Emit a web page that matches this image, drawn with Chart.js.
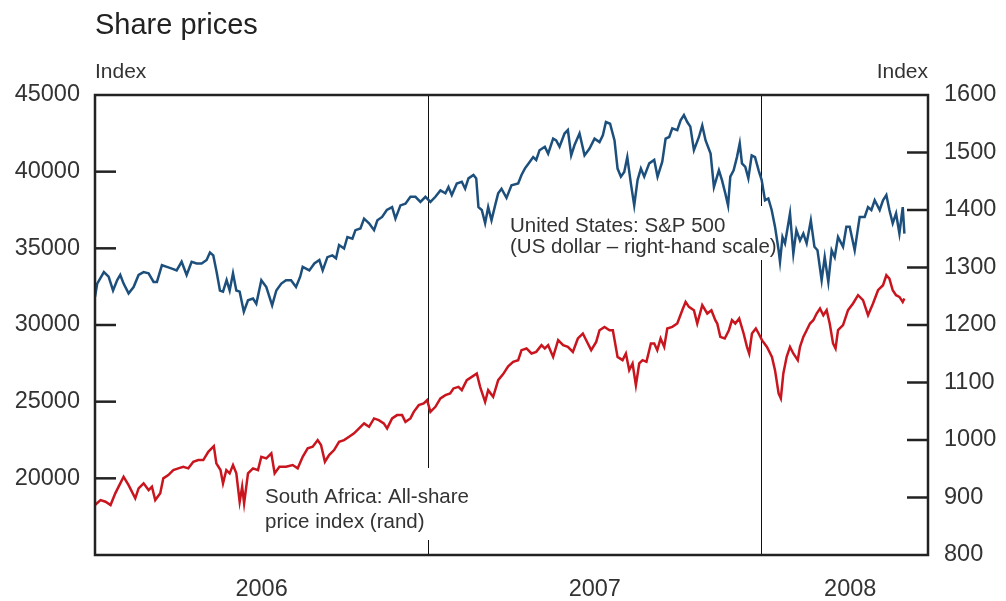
<!DOCTYPE html>
<html>
<head>
<meta charset="utf-8">
<title>Share prices</title>
<script src="https://cdn.jsdelivr.net/npm/chart.js@4.4.1/dist/chart.umd.min.js"></script>
<style>
    html, body { margin: 0; padding: 0; background: #fff; }
</style>
</head>
<body>
<canvas id="chart" width="1006" height="601"></canvas>
<script>
// months since 1 Jan 2006
var usMonths = [0.00,0.08,0.32,0.49,0.65,0.80,0.91,1.03,1.21,1.39,1.57,1.75,1.93,2.11,2.23,2.41,2.59,2.77,2.94,3.12,3.30,3.48,3.66,3.84,4.02,4.14,4.26,4.38,4.50,4.61,4.74,4.85,4.97,5.09,5.21,5.36,5.51,5.69,5.81,5.99,6.17,6.38,6.53,6.71,6.88,7.06,7.24,7.39,7.48,7.72,7.90,8.08,8.20,8.37,8.55,8.68,8.79,8.97,9.09,9.27,9.38,9.56,9.69,9.87,10.05,10.17,10.34,10.51,10.70,10.82,11.00,11.18,11.36,11.54,11.72,11.90,12.08,12.26,12.44,12.62,12.73,12.85,13.03,13.21,13.33,13.45,13.63,13.73,13.81,13.93,14.05,14.16,14.28,14.41,14.52,14.64,14.82,15.00,15.24,15.36,15.48,15.66,15.78,15.89,16.01,16.20,16.32,16.50,16.61,16.73,16.91,17.03,17.15,17.27,17.45,17.63,17.81,17.99,18.17,18.29,18.40,18.55,18.71,18.82,18.94,19.06,19.17,19.30,19.42,19.54,19.66,19.78,19.96,20.14,20.26,20.43,20.55,20.68,20.79,20.97,21.09,21.21,21.33,21.44,21.57,21.75,21.87,21.99,22.17,22.29,22.47,22.58,22.70,22.80,22.88,23.00,23.12,23.22,23.30,23.42,23.53,23.65,23.77,23.90,24.01,24.13,24.25,24.37,24.49,24.62,24.67,24.76,24.85,25.03,25.15,25.26,25.39,25.51,25.63,25.78,25.91,26.02,26.17,26.28,26.41,26.53,26.64,26.76,26.94,27.06,27.18,27.36,27.54,27.72,27.84,27.96,28.08,28.26,28.38,28.50,28.61,28.73,28.85,28.97,29.09,29.15];
var usValues = [1249,1272,1292,1284,1260,1278,1287,1272,1255,1266,1287,1292,1290,1275,1275,1304,1301,1298,1295,1310,1287,1310,1307,1307,1313,1326,1321,1292,1260,1258,1278,1260,1290,1260,1258,1223,1243,1246,1237,1278,1266,1234,1260,1272,1278,1278,1266,1284,1301,1295,1307,1313,1295,1318,1321,1316,1339,1333,1353,1350,1365,1368,1385,1377,1365,1382,1388,1400,1405,1385,1408,1411,1423,1423,1414,1423,1414,1423,1434,1429,1440,1426,1446,1449,1437,1455,1461,1455,1405,1400,1377,1405,1382,1408,1429,1437,1421,1443,1446,1461,1472,1484,1492,1487,1504,1510,1498,1524,1521,1510,1533,1539,1495,1513,1533,1495,1507,1524,1518,1530,1553,1550,1521,1472,1458,1466,1492,1446,1408,1452,1472,1458,1481,1487,1458,1484,1524,1527,1542,1539,1556,1565,1553,1545,1504,1527,1547,1521,1498,1440,1469,1452,1429,1408,1458,1469,1492,1516,1481,1475,1455,1495,1492,1469,1452,1417,1420,1400,1371,1330,1310,1353,1342,1394,1324,1365,1347,1359,1342,1382,1336,1330,1278,1318,1275,1330,1318,1353,1336,1371,1371,1330,1388,1388,1405,1400,1417,1400,1417,1426,1400,1377,1394,1359,1405,1359];

var saMonths = [0.00,0.20,0.38,0.56,0.73,0.91,1.03,1.21,1.45,1.57,1.75,1.93,2.05,2.17,2.35,2.46,2.64,2.82,3.00,3.18,3.36,3.54,3.72,3.90,4.08,4.28,4.37,4.52,4.61,4.73,4.85,4.97,5.09,5.21,5.30,5.37,5.51,5.69,5.87,5.99,6.17,6.35,6.47,6.64,6.88,7.12,7.30,7.48,7.66,7.84,8.02,8.14,8.28,8.43,8.61,8.79,8.97,9.15,9.33,9.51,9.69,9.87,10.05,10.22,10.40,10.52,10.70,10.88,11.06,11.18,11.36,11.48,11.66,11.84,11.96,12.08,12.26,12.44,12.62,12.79,12.91,13.09,13.21,13.39,13.57,13.75,13.87,14.05,14.16,14.34,14.52,14.70,14.88,15.06,15.24,15.36,15.54,15.72,15.89,16.08,16.20,16.32,16.50,16.68,16.86,17.03,17.21,17.39,17.57,17.75,17.87,18.05,18.17,18.35,18.53,18.65,18.82,19.00,19.12,19.24,19.36,19.48,19.60,19.72,19.86,20.02,20.14,20.25,20.37,20.50,20.61,20.79,20.97,21.15,21.27,21.39,21.57,21.69,21.87,22.05,22.20,22.34,22.41,22.52,22.68,22.83,22.94,23.06,23.20,23.36,23.48,23.56,23.66,23.80,23.90,24.02,24.20,24.38,24.49,24.62,24.70,24.79,24.91,25.03,25.15,25.31,25.39,25.51,25.63,25.75,25.87,25.99,26.11,26.23,26.35,26.46,26.58,26.67,26.76,26.94,27.12,27.30,27.48,27.66,27.84,28.02,28.20,28.38,28.50,28.61,28.73,28.85,28.97,29.09,29.15];
var saValues = [18258,18584,18473,18258,19021,19672,20102,19561,18695,19346,19672,19236,19451,18584,19021,19998,20213,20539,20650,20754,20650,21080,21191,21191,21731,22103,20975,20539,19672,20539,20324,20865,20324,18473,19451,18369,20324,20650,20539,21406,21301,21627,20324,20754,20754,20865,20650,21406,21953,22057,22494,22168,21080,21516,21842,22383,22494,22709,22930,23256,23582,23360,23908,23797,23582,23256,23908,24123,24123,23686,23908,24338,24774,24885,25100,24338,24664,25211,25426,25537,25863,25967,25752,26403,26618,26840,25967,24989,25752,25315,26403,26800,27300,27596,27707,28358,28469,28143,28247,28684,28469,28684,27921,29010,28684,28573,28247,29121,29446,28795,28358,28899,29661,29876,29661,29661,27921,27707,28143,27055,27491,26077,27491,27707,27596,28795,28795,28358,29121,28573,29772,29876,30098,30965,31505,31180,30965,30098,31290,30749,30965,30313,30098,29225,29121,29661,30313,30098,30424,29446,28573,28143,29446,29772,29446,29010,28573,27921,27055,25537,25211,26840,27921,28573,28143,27707,28573,29225,29661,30098,30313,30749,31075,30639,30965,30098,28795,28469,29661,29987,30965,31401,31942,31616,30639,31401,32268,32594,33245,33030,32268,31942,31831,31505,31727];

var yearLabels = ['2006', '2007', '2008'];
var yearLabelAt = [6, 18, 27.2];
var yearBreaks = [12, 24];
var leftTicks = [20000, 25000, 30000, 35000, 40000];
var rightTicks = [900, 1000, 1100, 1200, 1300, 1400, 1500];

var FONT = '"Liberation Sans", Arial, sans-serif';
var TEXT = '#333333';

function toPoints(xs, ys) {
    var pts = [];
    for (var i = 0; i < xs.length; i++) {
        pts.push({ x: xs[i], y: ys[i] });
    }
    return pts;
}

/*
*   frame, year lines, label boxes and the titles
*/
var decor = {
    id: 'decor',
    beforeDatasetsDraw: function(chart) {
        var ctx = chart.ctx;
        var area = chart.chartArea;
        var xs = chart.scales.x;
        ctx.save();
        ctx.strokeStyle = '#111';
        ctx.lineWidth = 1;
        yearBreaks.forEach(function(m) {
            var px = Math.round(xs.getPixelForValue(m)) + 0.5;
            ctx.beginPath();
            ctx.moveTo(px, area.top);
            ctx.lineTo(px, area.bottom);
            ctx.stroke();
        });

        // white boxes behind the two notes
        ctx.fillStyle = '#fff';
        ctx.fillRect(505, 206, 272, 54);
        ctx.fillRect(258, 468, 216, 72);

        ctx.fillStyle = TEXT;
        ctx.font = '20.5px ' + FONT;
        ctx.textAlign = 'left';
        ctx.textBaseline = 'alphabetic';
        ctx.fillText('United States: S&P 500', 510, 232);
        ctx.fillText('(US dollar \u2013 right-hand scale)', 510, 253);
        ctx.fillText('South Africa: All-share', 265, 503);
        ctx.fillText('price index (rand)', 265, 528);
        ctx.restore();
    },
    afterDatasetsDraw: function(chart) {
        var ctx = chart.ctx;
        var area = chart.chartArea;
        var yl = chart.scales.yL;
        var yr = chart.scales.yR;
        ctx.save();
        ctx.strokeStyle = '#222';
        ctx.lineWidth = 2.5;
        leftTicks.forEach(function(v) {
            var py = yl.getPixelForValue(v);
            ctx.beginPath();
            ctx.moveTo(area.left, py);
            ctx.lineTo(area.left + 21, py);
            ctx.stroke();
        });
        rightTicks.forEach(function(v) {
            var py = yr.getPixelForValue(v);
            ctx.beginPath();
            ctx.moveTo(area.right, py);
            ctx.lineTo(area.right - 21, py);
            ctx.stroke();
        });
        ctx.strokeRect(area.left, area.top, area.right - area.left, area.bottom - area.top);
        ctx.restore();
    },
    afterDraw: function(chart) {
        var ctx = chart.ctx;
        var area = chart.chartArea;
        ctx.save();
        ctx.fillStyle = '#222';
        ctx.textBaseline = 'alphabetic';
        ctx.textAlign = 'left';
        ctx.font = '29px ' + FONT;
        ctx.fillText('Share prices', 95, 34);
        ctx.fillStyle = TEXT;
        ctx.font = '21px ' + FONT;
        ctx.fillText('Index', 95, 78);
        ctx.textAlign = 'right';
        ctx.fillText('Index', area.right, 78);
        ctx.restore();
    }
};

var ctx = document.getElementById('chart').getContext('2d');
var chart = new Chart(ctx, {
    type: 'line',
    data: {
        datasets: [{
            label: 'United States: S&P 500',
            data: toPoints(usMonths, usValues),
            yAxisID: 'yR',
            borderColor: '#1d4f7c',
            borderWidth: 2.5,
            pointRadius: 0,
            tension: 0,
            fill: false
        }, {
            label: 'South Africa: All-share price index',
            data: toPoints(saMonths, saValues),
            yAxisID: 'yL',
            borderColor: '#c8151e',
            borderWidth: 2.5,
            pointRadius: 0,
            tension: 0,
            fill: false
        }]
    },
    options: {
        responsive: false,
        animation: false,
        devicePixelRatio: 1,
        layout: { padding: { top: 95, left: 0, right: 0, bottom: 0 } },
        plugins: {
            legend: { display: false },
            tooltip: { enabled: false }
        },
        scales: {
            x: {
                type: 'linear',
                position: 'bottom',
                min: 0,
                max: 30,
                grid: { display: false, drawTicks: false },
                border: { display: false },
                afterBuildTicks: function(scale) {
                    scale.ticks = yearLabelAt.map(function(v) { return { value: v }; });
                },
                afterFit: function(scale) { scale.height = 46; },
                ticks: {
                    autoSkip: false,
                    maxRotation: 0,
                    padding: 20,
                    color: TEXT,
                    font: { family: FONT, size: 23.5 },
                    callback: function(value) {
                        var i = yearLabelAt.indexOf(value);
                        return i >= 0 ? yearLabels[i] : '';
                    }
                }
            },
            yL: {
                type: 'linear',
                position: 'left',
                min: 15000,
                max: 45000,
                grid: { drawOnChartArea: false, drawTicks: false },
                border: { display: false },
                afterFit: function(scale) { scale.width = 95; },
                ticks: {
                    stepSize: 5000,
                    padding: 15,
                    color: TEXT,
                    font: { family: FONT, size: 23.5 },
                    callback: function(value) { return value == 15000 ? '' : String(value); }
                }
            },
            yR: {
                type: 'linear',
                position: 'right',
                min: 800,
                max: 1600,
                grid: { drawOnChartArea: false, drawTicks: false },
                border: { display: false },
                afterFit: function(scale) { scale.width = 78; },
                ticks: {
                    stepSize: 100,
                    padding: 16,
                    color: TEXT,
                    font: { family: FONT, size: 23.5 },
                    callback: function(value) { return String(value); }
                }
            }
        }
    },
    plugins: [decor]
});
</script>
</body>
</html>
